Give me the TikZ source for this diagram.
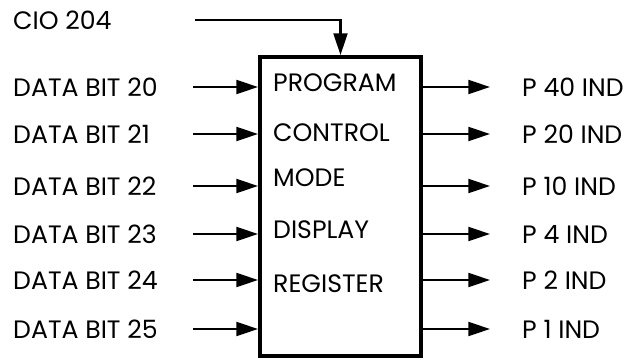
\documentclass[tikz,border=0pt]{standalone}
\usepackage{fontspec}
\setmainfont{Poppins}
\usetikzlibrary{arrows.meta}

\begin{document}
\begin{tikzpicture}[x=0.03cm, y=-0.03cm,
        lbl/.style={font=\fontsize{21.5}{23}\selectfont, anchor=west, inner sep=0pt},
        regbox/.style={draw, line width=3.4pt, minimum width=4.83cm, minimum height=8.97cm},
        sig/.style={-{Triangle[length=6.5mm, width=4.2mm]}, line width=1.8pt}
      ]
      \useasboundingbox (0,0) rectangle (635,362);
      \node[regbox] (reg) at (340.5,206.5) {};

      \node[lbl] (cio) at (13,20) {CIO 204};
      \coordinate (cin) at (195,20);
      \draw[sig] (cin) -| (reg.north);

      \foreach \y/\n in {87/20, 134/21, 186/22, 234/23, 280/24, 329/25} {
        \node[lbl] (bit\n) at (13,\y) {DATA BIT \n};
        \coordinate (s\n) at (193,\y);
        \draw[sig] (s\n) -- (s\n -| reg.west);
      }

      \foreach \y/\k in {87/40, 134/20, 186/10, 234/4, 280/2, 329/1} {
        \coordinate (e\k) at (490,\y);
        \draw[sig] (e\k -| reg.east) -- (e\k);
        \node[lbl] (ind\k) at (522,\y) {P \k\ IND};
      }

      \node[lbl] (prog) at (273,83) {PROGRAM};
      \node[lbl] (ctrl) at (273,133) {CONTROL};
      \node[lbl] (mode) at (273,178) {MODE};
      \node[lbl] (disp) at (273,230) {DISPLAY};
      \node[lbl] (regt) at (273,284) {REGISTER};
    \end{tikzpicture}
\end{document}
